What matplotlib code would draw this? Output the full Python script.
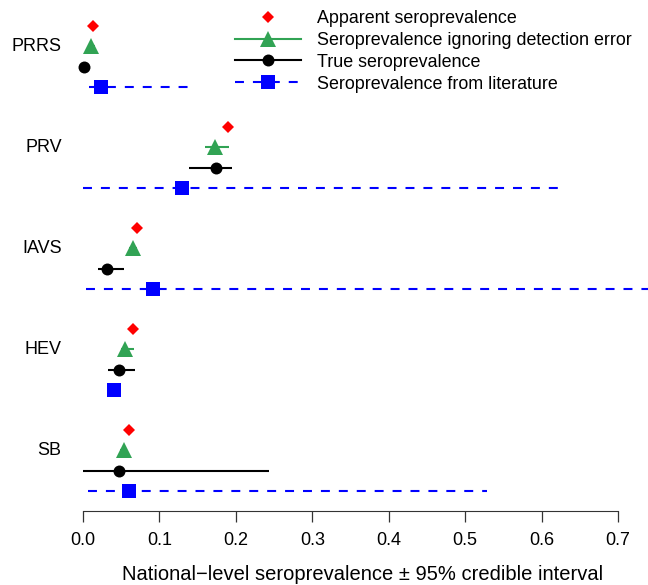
import numpy as np
import matplotlib
matplotlib.use('Agg')
import matplotlib.pyplot as plt
from matplotlib.lines import Line2D

plt.rcParams['font.family'] = ['Liberation Sans', 'DejaVu Sans']

diseases = ['PRRS', 'PRV', 'IAVS', 'HEV', 'SB']

apparent = [0.013, 0.190, 0.071, 0.065, 0.060]

naive_mean = [0.010, 0.173, 0.065, 0.055, 0.053]
naive_lo = [0.006, 0.160, 0.060, 0.050, 0.048]
naive_hi = [0.015, 0.191, 0.070, 0.067, 0.058]

true_mean = [0.001, 0.174, 0.031, 0.047, 0.047]
true_lo = [0.000, 0.139, 0.019, 0.032, 0.000]
true_hi = [0.004, 0.195, 0.054, 0.068, 0.243]

lit_mean = [0.024, 0.130, 0.091, 0.041, 0.060]
lit_lo = [0.008, 0.000, 0.004, 0.031, 0.006]
lit_hi = [0.137, 0.623, 0.800, 0.050, 0.528]

legend_labels = ['Apparent seroprevalence',
                 'Seroprevalence ignoring detection error',
                 'True seroprevalence',
                 'Seroprevalence from literature']

red = '#FF0000'
green = '#31A354'
blue = '#0000FF'
dash = (0, (4.3, 4.3))

W, H = 648, 585
fig = plt.figure(figsize=(W / 100, H / 100), dpi=100)
left_px, bottom_px = 56.3, 585 - 511
ax = fig.add_axes([left_px / W, bottom_px / H, 1 - left_px / W, 1 - bottom_px / H])

g = np.arange(len(diseases)) * 5
ax.hlines(g + 1, naive_lo, naive_hi, color=green, lw=1.5, zorder=2)
ax.hlines(g + 2, true_lo, true_hi, color='black', lw=1.5, zorder=2)
ax.hlines(g + 3, lit_lo, lit_hi, color=blue, lw=1.5, linestyles=[dash], zorder=2)

ax.plot(apparent, g, 'D', color=red, ms=6.3, mew=0, zorder=3)
ax.plot(naive_mean, g + 1, '^', color=green, ms=12, mew=0, zorder=3)
ax.plot(true_mean, g + 2, 'o', color='black', ms=8.6, mew=0, zorder=3)
ax.plot(lit_mean, g + 3, 's', color=blue, ms=9.4, mew=0, zorder=3)

for y, name in zip(g + 1, diseases):
    ax.text(-0.028, y, name, ha='right', va='center', fontsize=13)

ax.set_xlim(-0.035, (648 - 83) / 764.3)
ax.set_ylim(24, -1.3)
for s in ['top', 'right', 'left']:
    ax.spines[s].set_visible(False)
ax.spines['bottom'].set_bounds(0, 0.7)
ax.spines['bottom'].set_color('#333333')
ax.set_yticks([])
ax.set_xticks(np.arange(0, 0.71, 0.1))
ax.set_xticklabels(['%.1f' % v for v in np.arange(0, 0.71, 0.1)])
ax.tick_params(axis='x', length=8, width=0.9, color='#333333', labelsize=13, pad=7)
ax.set_xlabel('National\u2212level seroprevalence \u00b1 95% credible interval', fontsize=14.5)
ax.xaxis.set_label_coords((363 - left_px) / (W - left_px), -(574 - 511) / 511, transform=ax.transAxes)
ax.xaxis.label.set_va('center')

handles = [
    Line2D([], [], marker='D', color=red, ls='none', ms=6.3, mew=0),
    Line2D([], [], marker='^', color=green, lw=1.5, ms=12, mew=0),
    Line2D([], [], marker='o', color='black', lw=1.5, ms=8.6, mew=0),
    Line2D([], [], marker='s', color=blue, lw=1.5, ls=dash, ms=9.4, mew=0),
]
fig.legend(handles, legend_labels, loc='upper left', bbox_to_anchor=(235 / W, 1 - 10 / H),
           frameon=False, fontsize=12.9, handlelength=3.7, handletextpad=0.85,
           labelspacing=0.27, borderpad=0, borderaxespad=0)

fig.savefig('out.png', dpi=100)
